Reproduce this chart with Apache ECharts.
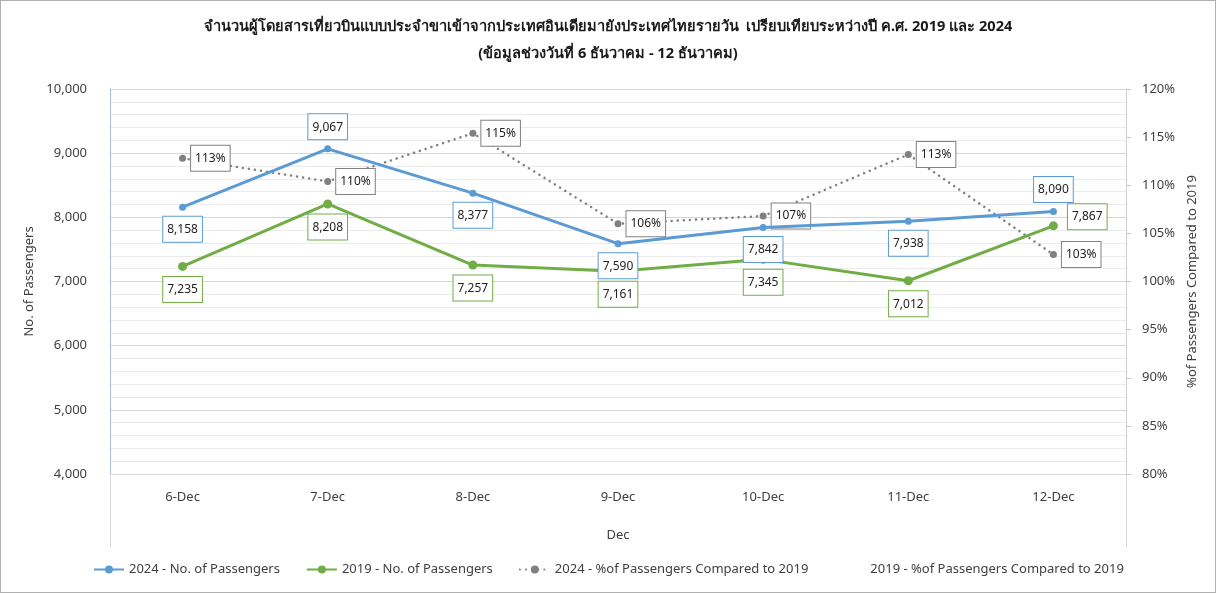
<!DOCTYPE html>
<html>
<head>
<meta charset="utf-8">
<script src="https://cdn.jsdelivr.net/npm/echarts@6/dist/echarts.min.js"></script>
<style>
html,body{margin:0;padding:0;background:#fff;}
#wrap{width:1216px;height:593px;box-sizing:border-box;border:1px solid #b0b0b0;position:relative;}
#chart{position:absolute;left:-1px;top:-1px;width:1216px;height:593px;}
</style>
</head>
<body>
<div id="wrap"><div id="chart"></div></div>
<script>
// ---- data ----
const categories = ['6-Dec','7-Dec','8-Dec','9-Dec','10-Dec','11-Dec','12-Dec'];
const pax2024 = [8158, 9067, 8377, 7590, 7842, 7938, 8090];
const pax2019 = [7235, 8208, 7257, 7161, 7345, 7012, 7867];
const pct2024 = [112.8, 110.4, 115.4, 106.0, 106.8, 113.2, 102.8];
const seriesNames = ['2024 - No. of Passengers','2019 - No. of Passengers','2024 - %of Passengers Compared to 2019','2019 - %of Passengers Compared to 2019'];
const titleLines = ['จำนวนผู้โดยสารเที่ยวบินแบบประจำขาเข้าจากประเทศอินเดียมายังประเทศไทยรายวัน  เปรียบเทียบระหว่างปี ค.ศ. 2019 และ 2024','(ข้อมูลช่วงวันที่ 6 ธันวาคม - 12 ธันวาคม)'];

// label placement (layout, not data)
const pos2024 = ['bottom','top','bottom','bottom','bottom','bottom','top'];
const pos2019 = ['bottom','bottom','bottom','bottom','bottom','bottom','right'];

const FONT = '"Noto Sans", sans-serif';
const TXT = '#404040';
const fmt = v => Math.round(v).toLocaleString('en-US');

function boxLabel(color){
  return {show:true, fontFamily:FONT, fontSize:12, color:'#222', backgroundColor:'#fff',
    borderColor:color, borderWidth:1, padding:[7,4,6,4], distance:6};
}

const chart = echarts.init(document.getElementById('chart'));
chart.setOption({
  animation:false,
  textStyle:{fontFamily:FONT},
  title:{text:titleLines.join('\n'), left:'center', top:8,
    textStyle:{fontFamily:FONT, fontSize:14.6, fontWeight:'bold', color:'#1a1a1a', lineHeight:27}},
  grid:{left:110, right:90, top:89, height:385},
  legend:{left:88, top:558, itemWidth:30, itemHeight:10, itemGap:26,
    textStyle:{fontFamily:FONT, fontSize:13, color:TXT},
    data:seriesNames},
  xAxis:{type:'category', data:categories, boundaryGap:true,
    axisLine:{show:true, lineStyle:{color:'#d9d9d9'}}, axisTick:{show:false},
    axisLabel:{color:TXT, fontSize:13, margin:17, fontFamily:FONT},
    name:'Dec', nameLocation:'middle', nameGap:55, nameTextStyle:{color:TXT, fontSize:13, fontFamily:FONT}},
  yAxis:[
    {type:'value', min:4000, max:10000, interval:1000,
     axisLine:{show:true, lineStyle:{color:'#a8bcd6'}}, axisTick:{show:false},
     axisLabel:{color:TXT, fontSize:13, margin:23, fontFamily:FONT, formatter:v=>fmt(v)},
     splitLine:{show:true, lineStyle:{color:'#d6d6d6', width:1}},
     minorTick:{show:false, splitNumber:5},
     minorSplitLine:{show:true, lineStyle:{color:'#ebebeb', width:1}},
     name:'No. of Passengers', nameLocation:'middle', nameGap:72, nameRotate:90,
     nameTextStyle:{color:TXT, fontSize:13, fontFamily:FONT}},
    {type:'value', min:80, max:120, interval:5, position:'right',
     axisLine:{show:true, lineStyle:{color:'#d0d0d0'}},
     axisTick:{show:true, length:5, lineStyle:{color:'#c8c8c8'}},
     axisLabel:{color:TXT, fontSize:13, margin:16, fontFamily:FONT, formatter:v=>v+'%'},
     splitLine:{show:false},
     name:'%of Passengers Compared to 2019', nameLocation:'middle', nameGap:58, nameRotate:90,
     nameTextStyle:{color:TXT, fontSize:13, fontFamily:FONT}}
  ],
  series:[
    {name:seriesNames[0], type:'line', yAxisIndex:0, z:4,
     data:pax2024.map((v,i)=>({value:v, label:{position:pos2024[i]}})),
     symbol:'circle', symbolSize:7,
     lineStyle:{color:'#5b9bd5', width:3}, itemStyle:{color:'#5b9bd5'},
     label:Object.assign(boxLabel('#5b9bd5'), {formatter:p=>fmt(p.value)})},
    {name:seriesNames[1], type:'line', yAxisIndex:0, z:4,
     data:pax2019.map((v,i)=>({value:v, label:pos2019[i]==='right'?{position:'right', offset:[4,-9]}:{position:pos2019[i]}})),
     symbol:'circle', symbolSize:9,
     lineStyle:{color:'#70ad47', width:3}, itemStyle:{color:'#70ad47'},
     label:Object.assign(boxLabel('#70ad47'), {formatter:p=>fmt(p.value)})},
    {name:seriesNames[2], type:'line', yAxisIndex:1, z:3,
     data:pct2024,
     symbol:'circle', symbolSize:7,
     lineStyle:{color:'#808080', width:2.5, type:[0.1,6], cap:'round'}, itemStyle:{color:'#808080'},
     label:Object.assign(boxLabel('#808080'), {position:'right', distance:5, formatter:p=>Math.round(p.value)+'%'})},
    {name:seriesNames[3], type:'line', yAxisIndex:1, data:[],
     symbol:'none', lineStyle:{opacity:0}, itemStyle:{opacity:0, color:'rgba(0,0,0,0)'}}
  ],
  graphic:[
    {type:'line', shape:{x1:110.5,y1:474,x2:110.5,y2:547}, style:{stroke:'#d9d9d9', lineWidth:1}, silent:true},
    {type:'line', shape:{x1:1126.5,y1:474,x2:1126.5,y2:547}, style:{stroke:'#d9d9d9', lineWidth:1}, silent:true}
  ]
});
</script>
</body>
</html>
